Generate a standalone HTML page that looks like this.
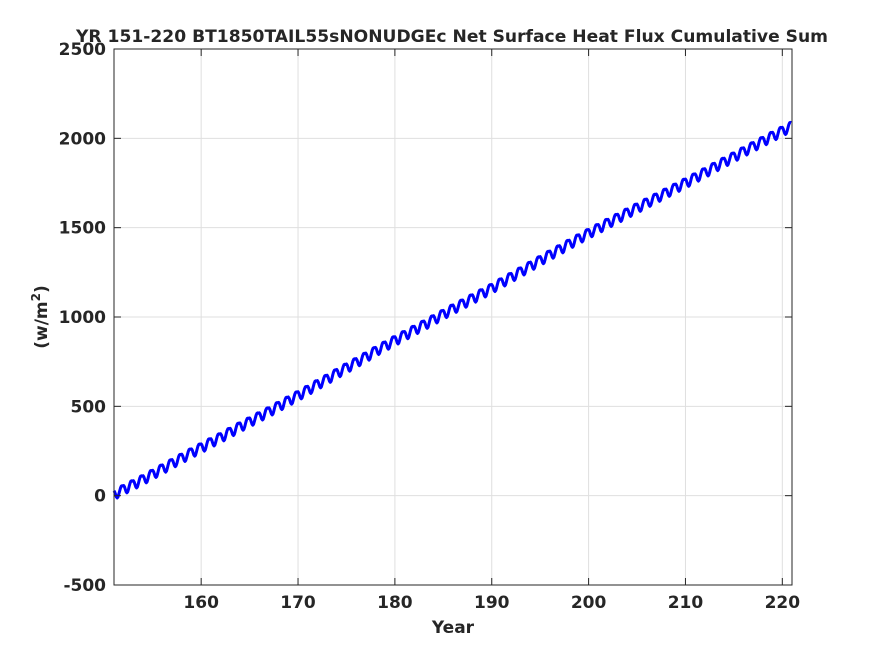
<!DOCTYPE html>
<html><head><meta charset="utf-8"><style>
body{margin:0;background:#fff;}
svg text{font-family:"DejaVu Sans","Liberation Sans",sans-serif;font-weight:bold;fill:#262626;}
</style></head><body>
<svg id="chart" width="875" height="656" xmlns="http://www.w3.org/2000/svg">
<rect width="875" height="656" fill="#fff"/>
<g id="grid"></g>
<g id="series"></g>
<rect x="114" y="49" width="678" height="536" fill="none" stroke="#262626" stroke-width="1"/>
<g id="ticks"></g>
<text x="452" y="42" text-anchor="middle" font-size="17" textLength="752" lengthAdjust="spacingAndGlyphs">YR 151-220 BT1850TAIL55sNONUDGEc Net Surface Heat Flux  Cumulative Sum</text>
<text x="453" y="633" text-anchor="middle" font-size="17">Year</text>
<text transform="translate(47,317) rotate(-90)" text-anchor="middle" font-size="17">(w/m<tspan dy="-7" font-size="12">2</tspan><tspan dy="7">)</tspan></text>
</svg>
<script>
const years=[151,152,153,154,155,156,157,158,159,160,161,162,163,164,165,166,167,168,169,170,171,172,173,174,175,176,177,178,179,180,181,182,183,184,185,186,187,188,189,190,191,192,193,194,195,196,197,198,199,200,201,202,203,204,205,206,207,208,209,210,211,212,213,214,215,216,217,218,219,220];
const annualLevel=[5,35,62,90,120,150,180,210,240,268,297,325,355,385,413,442,470,500,530,560,590,622,652,684,715,745,776,808,838,868,897,926,955,985,1015,1045,1073,1102,1131,1160,1192,1222,1253,1285,1316,1347,1377,1408,1438,1468,1496,1525,1553,1582,1610,1638,1666,1694,1722,1750,1779,1808,1838,1867,1896,1925,1954,1983,2012,2040];
const seasonalAnomaly=[22,12,-4,-20,-28,-25,-12,4,18,26,26,22];
const xTicks=[160,170,180,190,200,210,220];
const yTicks=[-500,0,500,1000,1500,2000,2500];
const xMin=151,xMax=221,yMin=-500,yMax=2500;
const L=114,R=792,T=49,B=585;
const X=v=>L+(v-xMin)/(xMax-xMin)*(R-L);
const Y=v=>B-(v-yMin)/(yMax-yMin)*(B-T);
const NS="http://www.w3.org/2000/svg";
const grid=document.getElementById('grid'),ticks=document.getElementById('ticks'),series=document.getElementById('series');
function mk(t,a){const e=document.createElementNS(NS,t);for(const k in a)e.setAttribute(k,a[k]);return e;}
xTicks.forEach(v=>{
 const g=mk('line',{x1:X(v),x2:X(v),y1:T,y2:B,stroke:'#dfdfdf','stroke-width':1});
 
 
 grid.appendChild(g);
 const t1=mk('line',{x1:X(v),x2:X(v),y1:B,y2:B-7,stroke:'#262626'});
 
 
 ticks.appendChild(t1);
 const t2=mk('line',{x1:X(v),x2:X(v),y1:T,y2:T+7,stroke:'#262626'});
 
 
 ticks.appendChild(t2);
 const tx=mk('text',{x:X(v),y:B+23,'text-anchor':'middle','font-size':17});
 
 
 tx.textContent=v;ticks.appendChild(tx);
});
yTicks.forEach(v=>{
 const g=mk('line',{x1:L,x2:R,y1:Y(v),y2:Y(v),stroke:'#dfdfdf','stroke-width':1});
 
 
 grid.appendChild(g);
 const t1=mk('line',{x1:L,x2:L+7,y1:Y(v),y2:Y(v),stroke:'#262626'});
 
 
 ticks.appendChild(t1);
 const t2=mk('line',{x1:R,x2:R-7,y1:Y(v),y2:Y(v),stroke:'#262626'});
 
 
 ticks.appendChild(t2);
 const tx=mk('text',{x:L-8,y:Y(v)+6,'text-anchor':'end','font-size':17});
 
 
 tx.textContent=v;ticks.appendChild(tx);
});
let pts=[];
years.forEach((yr,i)=>{
 const next=i+1<annualLevel.length?annualLevel[i+1]:annualLevel[i]+(annualLevel[i]-annualLevel[i-1]);
 seasonalAnomaly.forEach((a,m)=>{
  const f=m/12;
  const val=annualLevel[i]+(next-annualLevel[i])*f+a;
  pts.push(X(yr+f).toFixed(1)+','+Y(val).toFixed(1));
 });
});
const pl=mk('polyline',{points:pts.join(' '),fill:'none',stroke:'#0000ff','stroke-width':3,'stroke-linejoin':'round'});


series.appendChild(pl);
</script>
</body></html>
